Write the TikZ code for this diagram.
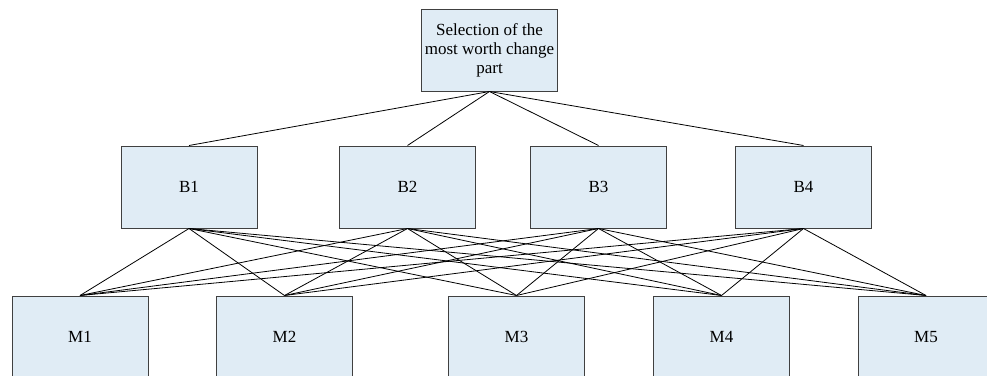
\documentclass[tikz,border=0pt]{standalone}
\usepackage{fontspec}
\setmainfont{Liberation Serif}
\usepackage{tikz}
\usetikzlibrary{positioning}
\definecolor{boxfill}{RGB}{224,236,245}
\definecolor{boxline}{RGB}{64,64,64}
\tikzstyle{critblock} = [rectangle, minimum width=136pt, minimum height=82pt, text centered, draw=boxline, fill=boxfill, line width=1pt, font=\fontsize{17}{19}\selectfont, inner sep=0pt]
\tikzstyle{goalblock} = [critblock, align=center]
\tikzstyle{line} = [draw, line width=0.8pt]
\begin{document}
\begin{tikzpicture}[x=1pt, y=-1pt]
				\clip (0,0) rectangle (987,375);
				\path[use as bounding box] (0,0) rectangle (987,375);
				% Place nodes
				\node [goalblock] (goal) at (489.5,50) {Selection of the\\most worth change\\part};
				\node [critblock] (b1) at (189,187) {B1};
				\node [critblock] (b2) at (407.5,187) {B2};
				\node [critblock] (b3) at (598.5,187) {B3};
				\node [critblock] (b4) at (803.5,187) {B4};
				\node [critblock] (m1) at (80,337) {M1};
				\node [critblock] (m2) at (284.5,337) {M2};
				\node [critblock] (m3) at (516.5,337) {M3};
				\node [critblock] (m4) at (721.5,337) {M4};
				\node [critblock] (m5) at (926,337) {M5};
				% Connect goal to criteria
				\path [line] (goal.south) -- (b1.north);
				\path [line] (goal.south) -- (b2.north);
				\path [line] (goal.south) -- (b3.north);
				\path [line] (goal.south) -- (b4.north);
				% Connect criteria to alternatives
				\foreach \b in {b1,b2,b3,b4}
					\foreach \m in {m1,m2,m3,m4,m5}
						\path [line] (\b.south) -- (\m.north);
\end{tikzpicture}
\end{document}
